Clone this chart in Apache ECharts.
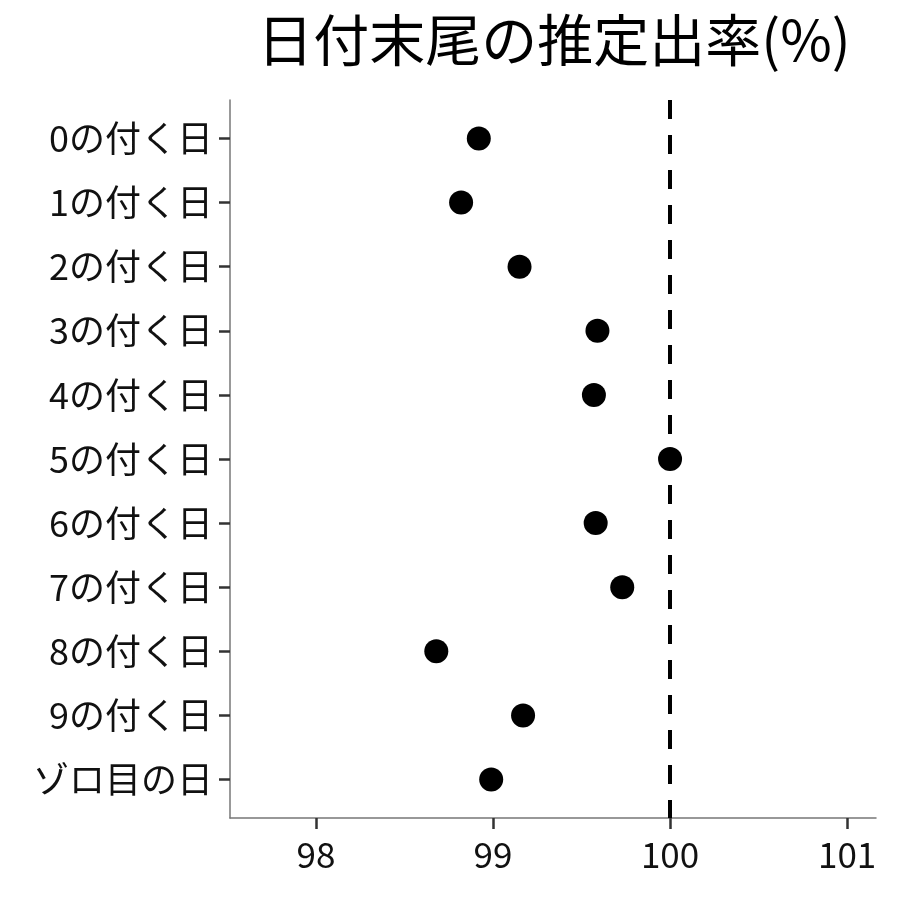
<!DOCTYPE html>
<html>
<head>
<meta charset="utf-8">
<script src="https://cdn.jsdelivr.net/npm/echarts@6/dist/echarts.min.js"></script>
<style>
    html, body {margin: 0; padding: 0; background: #fff;}
    #chart {width: 900px; height: 900px;}
</style>
</head>
<body>
<div id="chart"></div>
<script>
// 日付末尾ごとの推定出率
var categories = ['0の付く日', '1の付く日', '2の付く日', '3の付く日', '4の付く日', '5の付く日',
    '6の付く日', '7の付く日', '8の付く日', '9の付く日', 'ゾロ目の日'];
var rates = [98.92, 98.82, 99.15, 99.59, 99.57, 100.0, 99.58, 99.73, 98.68, 99.17, 98.99];
var xTicks = [98, 99, 100, 101];
var refLine = 100;

var font = '"Noto Sans CJK JP", "Noto Sans", sans-serif';

var points = [];
for (var i = 0; i < rates.length; i++) {
    points.push([rates[i], i]);
}
var yTicks = categories.map(function (c, i) { return i; });

var chart = echarts.init(document.getElementById('chart'));
chart.setOption({
    animation: false,
    title: {
        text: '日付末尾の推定出率(%)',
        left: 549,
        top: 7,
        textAlign: 'center',
        textStyle: {
            fontFamily: font,
            fontSize: 56,
            fontWeight: 'normal',
            color: '#000'
        }
    },
    grid: {
        left: 230,
        right: 24,
        top: 100,
        bottom: 82
    },
    xAxis: {
        type: 'value',
        min: 97.515,
        max: 101.163,
        splitLine: {show: false},
        axisLine: {onZero: false, lineStyle: {color: '#777', width: 1.5}},
        axisTick: {
            customValues: xTicks,
            length: 11,
            lineStyle: {color: '#333', width: 2.5}
        },
        axisLabel: {
            customValues: xTicks,
            margin: 19,
            fontFamily: font,
            fontSize: 35,
            color: '#111'
        }
    },
    yAxis: {
        type: 'value',
        min: -0.6,
        max: 10.6,
        inverse: true,
        splitLine: {show: false},
        axisLine: {show: true, onZero: false, lineStyle: {color: '#777', width: 1.5}},
        axisTick: {
            show: true,
            customValues: yTicks,
            length: 11,
            lineStyle: {color: '#333', width: 2.5}
        },
        axisLabel: {
            customValues: yTicks,
            margin: 17,
            fontFamily: font,
            fontSize: 36,
            color: '#111',
            formatter: function (v) {
                return categories[Math.round(v)];
            }
        }
    },
    series: [{
        type: 'scatter',
        data: points,
        symbolSize: 24,
        itemStyle: {color: '#000', opacity: 1},
        z: 3,
        markLine: {
            silent: true,
            symbol: 'none',
            label: {show: false},
            lineStyle: {color: '#000', width: 4, type: [19, 16]},
            data: [{xAxis: refLine}]
        }
    }]
});
</script>
</body>
</html>
